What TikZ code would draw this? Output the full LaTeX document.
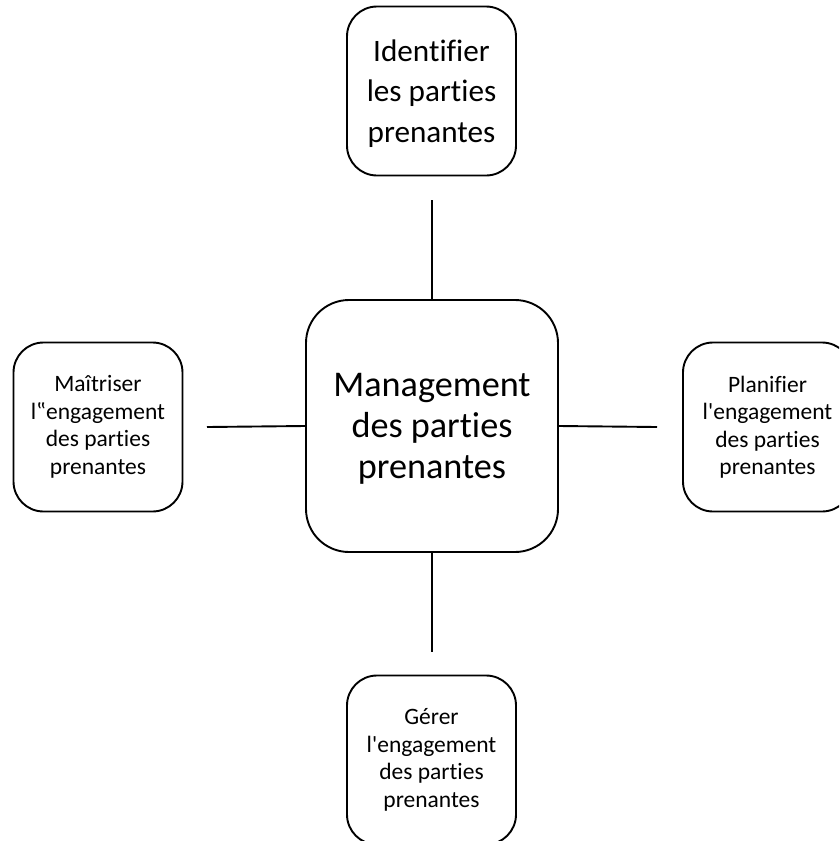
\documentclass[tikz,border=0pt]{standalone}
\usepackage{fontspec}
% plain Carlito: no common ligatures, no TeX quote mapping
\newfontfamily\calib{Carlito}[Ligatures=NoCommon]
\begin{document}
\begin{tikzpicture}[x=1pt,y=-1pt,
  box/.style={draw, line width=1.9pt, rounded corners=30pt, align=center,
    inner sep=0pt, minimum width=169pt, minimum height=169pt,
    font=\calib\fontsize{23.5}{27.5}\selectfont},
  hub/.style={box, rounded corners=43pt, minimum width=252pt, minimum height=252pt,
    font=\calib\fontsize{36.2}{41}\selectfont},
  link/.style={line width=1.9pt}]
\useasboundingbox (0,0) rectangle (839,841);
\clip (0,0) rectangle (839,841);

% central process
\node[hub, text depth=-6pt] (mgmt) at (432,426) {Management\\des parties\\prenantes};

% surrounding processes
\node[box, font=\calib\fontsize{31.2}{40.5}\selectfont, text depth=-6pt] (ident) at (431.5,91)
  {Identifier\\les parties\\prenantes};
\node[box] (maitr) at (98,427) {Maîtriser\\l‟engagement\\des parties\\prenantes};
\node[box] (plan) at (767.5,427) {Planifier\\l'engagement\\des parties\\prenantes};
\node[box] (gerer) at (431.5,760) {Gérer\\l'engagement\\des parties\\prenantes};

% short spokes with a gap before each outer box
\coordinate (nEnd) at (432,200);
\coordinate (wEnd) at (207,427);
\coordinate (eEnd) at (657,427);
\coordinate (sEnd) at (432,652);
\draw[link] (mgmt.north) -- (nEnd);
\draw[link] (mgmt.west) -- (wEnd);
\draw[link] (mgmt.east) -- (eEnd);
\draw[link] (mgmt.south) -- (sEnd);
\end{tikzpicture}
\end{document}
